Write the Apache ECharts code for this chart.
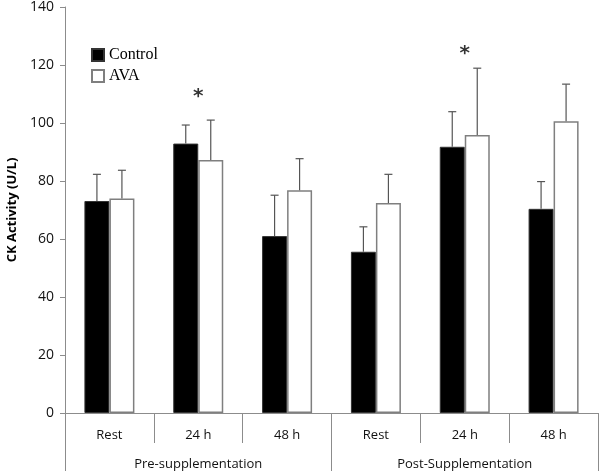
<!DOCTYPE html>
<html>
<head>
<meta charset="utf-8">
<script src="https://cdn.jsdelivr.net/npm/echarts@6/dist/echarts.min.js"></script>
<style>html,body{margin:0;padding:0;background:#fff;}#c{width:600px;height:475px;}</style>
</head>
<body>
<div id="c"></div>
<script>
var categories = ['Rest', '24 h', '48 h', 'Rest', '24 h', '48 h'];
var groups = ['Pre-supplementation', 'Post-Supplementation'];
var controlMean = [73.1, 92.9, 61.0, 55.6, 91.8, 70.4];
var controlSD = [9.2, 6.4, 14.1, 8.6, 12.1, 9.4];
var avaMean = [74.0, 87.2, 76.8, 72.4, 95.9, 100.6];
var avaSD = [9.7, 13.8, 10.9, 9.9, 23.0, 12.8];
var sigMarks = [[1, 109], [4, 124]];
var yTicks = [0, 20, 40, 60, 80, 100, 120, 140];

var axisGray = '#8c8c8c';
var chart = echarts.init(document.getElementById('c'));

function errData(means, sds) {
  return means.map(function (m, i) { return [i, m, m + sds[i]]; });
}
function errRender(offset) {
  return function (params, api) {
    var c = api.coord([api.value(0), api.value(1)]);
    var t = api.coord([api.value(0), api.value(2)]);
    var x = c[0] + offset;
    var style = { stroke: '#555555', lineWidth: 1.2 };
    return {
      type: 'group',
      children: [
        { type: 'line', shape: { x1: x, y1: c[1], x2: x, y2: t[1] }, style: style },
        { type: 'line', shape: { x1: x - 4, y1: t[1], x2: x + 4, y2: t[1] }, style: style }
      ]
    };
  };
}

chart.setOption({
  animation: false,
  backgroundColor: '#fff',
  grid: { left: 65, right: 2, top: 7, bottom: 62, containLabel: false, outerBoundsMode: 'none' },
  legend: {
    orient: 'vertical', left: 86, top: 42,
    itemWidth: 12, itemHeight: 12, itemGap: 5, icon: 'rect',
    data: ['Control', 'AVA'],
    textStyle: { fontFamily: 'Liberation Serif', fontSize: 16, color: '#000' }
  },
  xAxis: [{
    type: 'category', data: categories, position: 'bottom',
    axisLine: { lineStyle: { color: axisGray, width: 1 } },
    axisTick: { show: true, interval: 0, length: 30, lineStyle: { color: axisGray } },
    axisLabel: { interval: 0, margin: 16, fontFamily: 'Open Sans', fontSize: 13, color: '#111' }
  }, {
    type: 'category', data: groups, position: 'bottom',
    axisLine: { show: false },
    axisTick: { show: true, interval: 0, length: 58, lineStyle: { color: axisGray } },
    axisLabel: { interval: 0, margin: 45, fontFamily: 'Open Sans', fontSize: 13, color: '#111' }
  }],
  yAxis: {
    type: 'value', min: 0, max: 140, interval: 20,
    name: 'CK Activity (U/L)', nameLocation: 'middle', nameGap: 46,
    nameTextStyle: { fontFamily: 'Open Sans', fontWeight: 'bold', fontSize: 13, color: '#000' },
    axisLine: { show: true, lineStyle: { color: axisGray } },
    axisTick: { show: true, length: 5, lineStyle: { color: axisGray } },
    splitLine: { show: false },
    axisLabel: { margin: 11, fontFamily: 'Open Sans', fontSize: 14, color: '#111',
      formatter: function (v) { return yTicks.indexOf(v) >= 0 ? String(v) : ''; } }
  },
  series: [{
    name: 'Control', type: 'bar', data: controlMean, barWidth: 25, barGap: '0%',
    itemStyle: { color: '#000', borderColor: '#333', borderWidth: 1 }
  }, {
    name: 'AVA', type: 'bar', data: avaMean, barWidth: 25, barGap: '0%',
    itemStyle: { color: '#fff', borderColor: '#7f7f7f', borderWidth: 1.5 }
  }, {
    type: 'custom', data: errData(controlMean, controlSD), renderItem: errRender(-12.5),
    encode: { x: 0, y: [1, 2] }, z: 5
  }, {
    type: 'custom', data: errData(avaMean, avaSD), renderItem: errRender(12.5),
    encode: { x: 0, y: [1, 2] }, z: 5
  }, {
    type: 'scatter', data: sigMarks, symbolSize: 0, silent: true,
    label: { show: true, position: 'inside', formatter: '*', fontFamily: 'DejaVu Sans',
      fontWeight: 'bold', fontSize: 20, color: '#000' }
  }]
});
</script>
</body>
</html>
